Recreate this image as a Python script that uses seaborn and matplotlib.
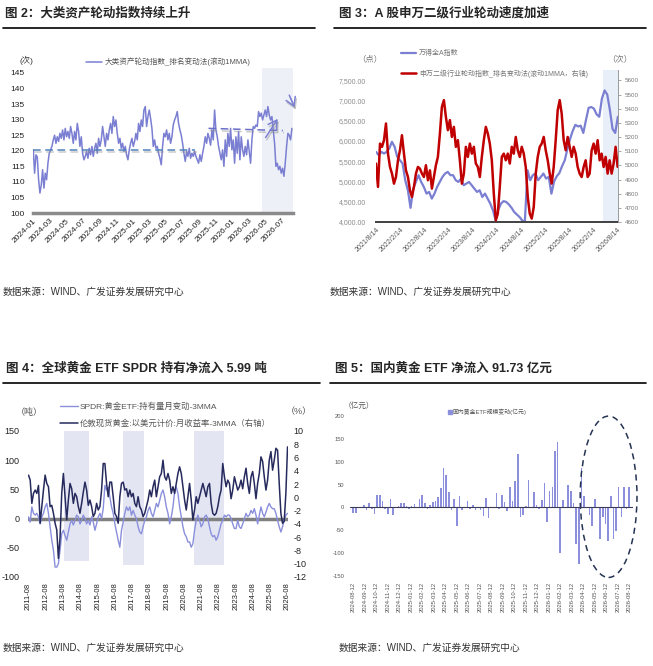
import numpy as np
import pandas as pd
import matplotlib
matplotlib.use("Agg")
import matplotlib.pyplot as plt
import matplotlib.dates as mdates
import matplotlib.patheffects as pe
from matplotlib.patches import Ellipse, Patch
import seaborn as sns

W, H = 653, 666

# ---- 图2 大类资产轮动指数 (排名变动法, 滚动1MMA) ----
rot_index = [
    120.3, 112.8, 118.7, 118.0, 110.7, 106.4, 109.0, 113.9, 108.0, 112.8,
    110.7, 116.0, 119.2, 120.3, 121.4, 123.5, 125.0, 122.4, 124.5, 123.0,
    125.6, 124.0, 126.7, 123.5, 127.2, 124.5, 126.2, 124.0, 127.8, 125.6,
    122.4, 126.2, 123.5, 128.8, 126.2, 121.4, 124.5, 119.2, 117.1, 118.2,
    119.8, 117.6, 120.8, 118.7, 121.4, 118.2, 120.8, 122.4, 119.2, 124.0,
    121.4, 123.5, 127.8, 124.5, 121.4, 125.6, 123.5, 126.7, 128.8, 125.6,
    131.0, 127.8, 129.9, 125.6, 122.4, 124.0, 120.8, 122.4, 119.8, 121.4,
    118.7, 117.1, 120.3, 122.4, 124.0, 121.4, 123.0, 125.6, 123.5, 128.8,
    126.2, 129.9, 127.8, 133.1, 134.2, 127.8, 131.0, 133.1, 130.4, 127.2,
    121.4, 123.5, 120.8, 121.4, 119.2, 117.6, 115.5, 121.4, 125.6, 124.5,
    126.7, 123.5, 125.6, 122.4, 124.5, 128.3, 129.9, 131.0, 132.6, 128.8,
    126.7, 125.0, 122.4, 119.2, 116.6, 119.8, 118.2, 120.8, 117.6, 119.2,
    118.2, 119.8, 118.2, 117.1, 116.0, 118.7, 116.6, 119.2, 121.4, 124.5,
    122.4, 125.6, 124.0, 121.8, 126.7, 123.5, 133.1, 126.7, 124.5, 121.4,
    119.2, 117.1, 120.3, 115.0, 123.5, 118.2, 125.6, 121.4, 127.2, 120.3,
    123.5, 116.0, 124.5, 119.2, 126.2, 117.1, 124.5, 120.3, 118.2, 121.4,
    118.7, 123.5, 119.8, 116.0, 123.5, 127.8, 127.2, 128.3, 127.8, 132.6,
    131.0, 132.1, 129.9, 131.5, 133.1, 131.0, 134.2, 131.5, 129.9, 131.0,
    126.7, 122.4, 115.0, 116.0, 113.9, 115.0, 112.8, 114.4, 111.8, 116.0,
    121.4, 125.6, 125.0, 123.5, 127.2,
]

# ---- 图3 万得全A指数 (左轴) / 申万二级行业轮动指数 (右轴) ----
wind_a = [
    5733, 5651, 5733, 5692, 5733, 5816, 5981, 5857, 5610, 5527,
    5445, 5032, 4784, 4350, 4825, 4990, 5156, 4990, 4867, 4702,
    4743, 4578, 4702, 4867, 4990, 5114, 5197, 5238, 5156, 5156,
    5032, 4990, 5073, 4908, 4949, 4990, 4908, 4825, 4743, 4784,
    4619, 4702, 4578, 4454, 4289, 4041, 4300, 4454, 4516, 4495,
    4433, 4350, 4247, 4185, 4124, 4040, 4000, 5280, 5032, 5156,
    5197, 5032, 5114, 5197, 5073, 5114, 4700, 5000, 5130, 5210,
    5380, 5520, 5800, 6050, 6250, 6400, 6360, 6380, 6200, 6520,
    6820, 6840, 6800, 6660, 6600, 7050, 7250, 7150, 6766, 6300,
    6200, 6600,
]
sw_rotation = [
    5013, 4848, 5154, 5131, 5178, 5296, 5083, 4989, 4942, 4871,
    4918, 5036, 5107, 5213, 5083, 4965, 4918, 4824, 4777, 4848,
    4942, 4989, 4977, 4942, 4918, 5001, 4895, 4965, 4836, 4918,
    5001, 5060, 5225, 5413, 5461, 5343, 5249, 5320, 5201, 5272,
    5131, 5178, 5036, 4871, 4942, 5131, 5060, 5154, 5083, 5131,
    5013, 4989, 4918, 5060, 5178, 5272, 5225, 5154, 5036, 4800,
    4612, 4659, 4848, 5060, 5083, 5036, 5083, 5013, 5131, 5083,
    5201, 5107, 5060, 5131, 5083, 4989, 4777, 4659, 4624, 4706,
    4942, 5060, 5131, 5154, 5201, 5107, 5036, 4942, 4871, 4989,
    5178, 5390, 5461, 5366, 5178, 5107, 5201, 5131, 5060, 5131,
    5083, 4989, 4942, 4918, 4989, 5036, 4918, 4942, 5107, 5154,
    5083, 5178, 5036, 5083, 4989, 5060, 4942, 5036, 4942, 5013,
    5131, 4990,
]

# ---- 图4 SPDR持有量月变动-3MMA (吨) / 伦敦现货黄金月收益率-3MMA (%) ----
spdr_flow = [
    3, -6, 20, 9, 6, 9, 3, -9, 3, 9,
    20, 26, 9, -14, -37, -54, -83, -83, -77, -54,
    -26, -20, -29, -37, -23, -9, -3, -11, -3, 6,
    3, -9, -3, 6, 0, -9, -3, -11, 3, -6,
    -20, -9, 3, 9, 0, 17, 57, 49, 54, 37,
    20, 9, -9, -23, -37, -49, -20, -6, 9, 20,
    14, 20, 6, 14, 6, 0, -14, -23, -26, -14,
    -3, 3, 14, 20, 9, 3, 14, 26, 20, 31,
    43, 49, 37, 20, 9, -9, 3, 20, 46, 54,
    43, 20, 3, -14, -26, -31, -40, -40, -49, -43,
    -20, -3, 6, -3, -14, -9, 3, 6, 0, -14,
    -26, -31, -29, -37, -31, -20, -9, -3, 6, 3,
    6, 6, 0, -9, -17, -17, -3, -14, -17, -9,
    0, 9, 3, 6, 14, 9, 17, 6, -9, 6,
    20, 9, 3, 11, 20, 26, 20, 17, 17, 9,
    -3, -14, -23, -14, -3, 6, 9,
]
gold_ret = [
    3.35, 2.6, -0.9, 0.6, 1.1, 0.6, 1.8, -3.9, -1.4, 1.1,
    3.35, 2.1, 1.6, -1.4, -1.2, -2.4, -3.9, -4.9, -9.2, -6.0,
    0.6, 3.6, 0.1, -3.4, -0.4, 2.1, 1.3, -0.9, 0.6, 0.1,
    -1.4, -2.4, -0.9, 0.8, 2.3, 1.1, -1.2, -0.4, -1.4, -2.9,
    -2.4, -0.9, -1.9, -1.4, 1.1, 5.1, 5.1, 2.1, 0.1, 2.3,
    2.3, 0.1, -2.4, -2.9, -3.9, 0.1, 2.1, 2.3, 1.1, 1.3,
    0.1, 1.1, 0.1, 0.6, -0.9, -1.4, 0.1, -1.4, -1.9, -2.9,
    -2.4, -1.4, -0.4, 1.1, 0.1, 1.6, 2.6, 0.1, 1.6, 3.1,
    3.6, 5.6, 3.1, 2.6, 3.6, 2.6, 0.6, 1.6, 0.6, 2.1,
    3.6, 4.6, 3.6, 1.6, -0.4, -1.9, 0.1, 2.1, -0.4, -3.4,
    -1.9, 0.1, -0.9, 0.1, 1.1, 2.1, 1.1, 0.1, 1.6, 2.1,
    -0.9, -2.4, -2.7, -2.4, -1.4, 0.1, 1.1, 5.1, 3.1, 1.6,
    2.6, 2.1, -0.2, 1.1, 3.1, 2.1, 1.1, 1.6, 2.6, 1.3,
    3.1, 4.4, 2.1, 0.6, 3.1, 3.9, 2.1, -0.2, 2.1, 3.6,
    6.1, 5.4, 3.1, 1.1, 2.6, 5.6, 6.9, 4.1, 5.6, 7.4,
    7.1, 2.1, -2.4, -3.9, -3.6, 0.6, 7.6,
]

# ---- 图5 国内黄金ETF规模变动 (亿元, 周度) ----
etf_flow = [
    -12, -12, 2, -2, 5, -6, 9, -4, -15, 28, 28, 14, -3, -15, 19, -16, -2, 3,
    10, 10, 3, -4, 3, 7, -1, 19, 28,
    9, -4, 6, 11, 14, 23, 43, 87, 70, 33, -5, 19, -40, 25, -6, 0, 15, -4,
    5, -6, 0, -5, -19, 20, -24, 0, -2,
    32, -3, 28, 12, -7, 44, 15, 58, 117, -22, -16, 3, 60, 0, 33, 6, -3, 16,
    54, -32, 35, 44, 124, 143, -99, 16, 0, 50, 36, 9, -79, -124, 87, 25, 0,
    -16, -41, 19, 0, -68, -22, -36, -74, 25, -70, -51, 45, -22, 45, -3, 45,
]

source = "数据来源：WIND、广发证券发展研究中心"

sns.set_theme(style="white")
plt.rcParams["font.family"] = ["Liberation Sans", "Noto Sans CJK SC"]
plt.rcParams["axes.unicode_minus"] = False

fig = plt.figure(figsize=(W / 100, H / 100), dpi=100)


def box(l, t, r, b):
    return [l / W, 1 - b / H, (r - l) / W, (b - t) / H]


def fx(x):
    return x / W


def fy(y):
    return 1 - y / H


def header(xt, x0, x1, yt, yr, title, ys, xs):
    fig.text(fx(xt), fy(yt), title, fontsize=9, fontweight="bold", va="center", ha="left")
    fig.add_artist(plt.Line2D([fx(x0), fx(x1)], [fy(yr), fy(yr)], color="black", lw=1.2))
    fig.text(fx(xs), fy(ys), source, fontsize=7, va="center", ha="left", color="#333333")


header(5, 3, 315, 13, 28, "图 2：大类资产轮动指数持续上升", 292, 3)
header(339, 334, 646, 13, 28, "图 3：A 股申万二级行业轮动速度加速", 292, 330)
header(6, 3, 320, 368, 383, "图 4：全球黄金 ETF SPDR 持有净流入 5.99 吨", 648, 3)
header(335, 330, 646, 368, 383, "图 5：国内黄金 ETF 净流入 91.73 亿元", 648, 339)

shadow = [pe.SimpleLineShadow(offset=(0.8, -1.6), shadow_color="#8f8f8f", alpha=0.45), pe.Normal()]

# ================= 图2 =================
ax1 = fig.add_axes(box(33, 68, 293, 213))
df1 = pd.DataFrame({"date": pd.date_range("2024-01-02", "2026-08-08", periods=len(rot_index)),
                    "value": rot_index})
sns.lineplot(data=df1, x="date", y="value", ax=ax1, color="#7b7fd2", lw=1.1,
             label="大类资产轮动指数_排名变动法(滚动1MMA)")
ax1.axvspan(pd.Timestamp("2026-04-19"), pd.Timestamp("2026-08-12"), color="#eef0f8", lw=0, zorder=0)
ax1.plot([pd.Timestamp("2024-01-02"), pd.Timestamp("2025-08-19")], [120.3, 120.3],
         ls=(0, (5, 3)), color="#4f81bd", lw=1.1, path_effects=shadow)
ax1.plot([pd.Timestamp("2025-10-06"), pd.Timestamp("2026-07-06")], [127.2, 126.5],
         ls=(0, (5, 3)), color="#6a70c8", lw=1.1, path_effects=shadow)
for (d0, v0), (d1, v1) in [(("2026-04-28", 123.5), ("2026-06-22", 131.0)),
                           (("2026-07-25", 138.7), ("2026-08-22", 133.1))]:
    ann = ax1.annotate("", xy=(mdates.date2num(pd.Timestamp(d1)), v1),
                       xytext=(mdates.date2num(pd.Timestamp(d0)), v0),
                       arrowprops=dict(arrowstyle="->,head_length=0.5,head_width=0.3",
                                       color="#7b7fd2", lw=1.1),
                       annotation_clip=False)
    ann.arrow_patch.set_path_effects(shadow)
ax1.set_xlim(pd.Timestamp("2024-01-01"), pd.Timestamp("2026-08-12"))
ax1.set_ylim(100, 146.6)
ax1.set_yticks(range(100, 146, 5))
t1 = pd.date_range("2024-01-01", "2026-07-01", freq="2MS")
ax1.set_xticks(t1)
ax1.set_xticklabels(t1.strftime("%Y-%m"), rotation=45, ha="right", va="top", rotation_mode="anchor")
ax1.tick_params(axis="y", length=0, labelsize=6, pad=6, labelcolor="#222222")
ax1.tick_params(axis="x", length=0, labelsize=6, pad=3, labelcolor="#222222")
ax1.set_xlabel("")
ax1.set_ylabel("")
for s in ["left", "right", "top"]:
    ax1.spines[s].set_visible(False)
ax1.spines["bottom"].set_color("#8a8a8a")
ax1.spines["bottom"].set_linewidth(2.5)
ax1.get_legend().remove()
h, l = ax1.get_legend_handles_labels()
fig.legend(h[:1], l[:1], loc="center left", bbox_to_anchor=(fx(86), fy(62)), frameon=False,
           fontsize=5.5, handlelength=2.1, handletextpad=0.4, borderpad=0, borderaxespad=0,
           labelcolor="#555555")
fig.text(fx(20), fy(60), "(次)", fontsize=6, va="center", color="#333333")

# ================= 图3 =================
ax2 = fig.add_axes(box(376, 70, 618, 222))
ax2r = ax2.twinx()
df2a = pd.DataFrame({"date": pd.date_range("2021-08-14", "2026-08-19", periods=len(wind_a)),
                     "value": wind_a})
df2b = pd.DataFrame({"date": pd.date_range("2021-08-14", "2026-08-17", periods=len(sw_rotation)),
                     "value": sw_rotation})
sns.lineplot(data=df2a, x="date", y="value", ax=ax2, color="#7b7fd2", lw=1.6, label="万得全A指数")
sns.lineplot(data=df2b, x="date", y="value", ax=ax2r, color="#c00000", lw=1.8,
             label="申万二级行业轮动指数_排名变动法(滚动1MMA，右轴)")
ax2.axvspan(pd.Timestamp("2026-04-26"), pd.Timestamp("2026-08-20"), color="#e9eff8", lw=0, zorder=0)
ax2.set_xlim(pd.Timestamp("2021-08-14"), pd.Timestamp("2026-08-20"))
ax2.set_ylim(4000, 7755)
ax2r.set_ylim(4600, 5674)
lt = list(range(4000, 7501, 500))
ax2.set_yticks(lt)
ax2.set_yticklabels([f"{v:,.2f}" for v in lt])
ax2r.set_yticks(range(4600, 5601, 100))
t2 = [pd.Timestamp(f"{y}-{m}-14") for y in range(2021, 2027) for m in (2, 8)][1:]
ax2.set_xticks(t2)
ax2.set_xticklabels([f"{d.year}/{d.month}/{d.day}" for d in t2], rotation=45, ha="right",
                    va="top", rotation_mode="anchor")
ax2.tick_params(axis="y", length=0, labelsize=5, pad=7, labelcolor="#8c8c8c")
ax2.tick_params(axis="x", length=0, labelsize=5, pad=3, labelcolor="#555555")
ax2r.tick_params(axis="y", length=2, width=0.6, color="#999999", labelsize=4.5, pad=3,
                 labelcolor="#777777")
for a in (ax2, ax2r):
    a.set_xlabel("")
    a.set_ylabel("")
    for s in ["left", "top", "right", "bottom"]:
        a.spines[s].set_visible(False)
ax2.spines["bottom"].set_visible(True)
ax2.spines["bottom"].set_color("#404040")
ax2.spines["bottom"].set_linewidth(1.4)
ax2r.spines["right"].set_visible(True)
ax2r.spines["right"].set_color("#9a9a9a")
ax2r.spines["right"].set_linewidth(0.7)
h2, l2 = ax2.get_legend_handles_labels()
h3, l3 = ax2r.get_legend_handles_labels()
ax2.get_legend().remove()
ax2r.get_legend().remove()
fig.legend(h2 + h3, l2 + l3, loc="upper left", bbox_to_anchor=(fx(401), fy(50)), frameon=False,
           fontsize=5, handlelength=2.2, handletextpad=0.4, borderpad=0, borderaxespad=0,
           labelspacing=1.75, labelcolor="#777777")
fig.text(fx(357), fy(59), "（点）", fontsize=6, va="center", color="#777777")
fig.text(fx(607), fy(59), "（次）", fontsize=6, va="center", color="#777777")

# ================= 图4 =================
ax3 = fig.add_axes(box(28, 431, 288, 577))
ax3r = ax3.twinx()
d3 = pd.date_range("2011-08-31", "2026-08-31", periods=len(spdr_flow))
df3 = pd.DataFrame({"date": d3, "spdr": spdr_flow, "gold": gold_ret})
for s0, s1, lo in [("2013-09-20", "2015-03-05", -73), ("2017-02-10", "2018-05-05", -80),
                   ("2021-04-01", "2023-01-05", -80)]:
    ax3.fill_between([pd.Timestamp(s0), pd.Timestamp(s1)], lo, 150, color="#e3e5f3", lw=0, zorder=0)
ax3.axhline(0, color="#808080", lw=2.5, zorder=1)
sns.lineplot(data=df3, x="date", y="spdr", ax=ax3, color="#8a8fdb", lw=1.0,
             label="SPDR:黄金ETF:持有量月变动-3MMA")
sns.lineplot(data=df3, x="date", y="gold", ax=ax3r, color="#262a5c", lw=1.1,
             label="伦敦现货黄金:以美元计价:月收益率-3MMA（右轴）")
ax3.set_xlim(pd.Timestamp("2011-08-20"), pd.Timestamp("2026-09-10"))
ax3.set_ylim(-100, 150)
ax3r.set_ylim(-12, 10)
ax3.set_yticks(range(-100, 151, 50))
ax3r.set_yticks(range(-12, 11, 2))
t3 = [pd.Timestamp(f"{y}-08-31") for y in range(2011, 2027)]
ax3.set_xticks(t3)
ax3.set_xticklabels([f"{d.year}-08" for d in t3], rotation=90, ha="center", va="top")
ax3.tick_params(axis="y", length=0, labelsize=6.5, pad=6, labelcolor="#222222")
ax3.tick_params(axis="x", length=0, labelsize=5.5, pad=4, labelcolor="#222222")
ax3r.tick_params(axis="y", length=0, labelsize=6.5, pad=4, labelcolor="#222222")
for a in (ax3, ax3r):
    a.set_xlabel("")
    a.set_ylabel("")
    for s in ["left", "top", "right", "bottom"]:
        a.spines[s].set_visible(False)
h4, l4 = ax3.get_legend_handles_labels()
h5, l5 = ax3r.get_legend_handles_labels()
ax3.get_legend().remove()
ax3r.get_legend().remove()
fig.legend(h4 + h5, l4 + l5, loc="upper left", bbox_to_anchor=(fx(60), fy(402)), frameon=False,
           fontsize=6, handlelength=2.1, handletextpad=0.3, borderpad=0, borderaxespad=0,
           labelspacing=1.05, labelcolor="#555555")
fig.text(fx(16), fy(412), "（吨）", fontsize=6.5, va="center", color="#555555")
fig.text(fx(286), fy(412), "（%）", fontsize=6.5, va="center", color="#555555")

# ================= 图5 =================
ax4 = fig.add_axes(box(350, 416, 633, 576))
df4 = pd.DataFrame({"week": np.arange(len(etf_flow)), "flow": etf_flow})
sns.barplot(data=df4, x="week", y="flow", ax=ax4, color="#8c90dc", width=0.6, saturation=1,
            linewidth=0, edgecolor="none")
n4 = len(etf_flow)
ax4.axhline(0, color="#3c3c5a", lw=0.8)
ax4.set_xlim(-1.24, n4 - 1 + 1.4)
ax4.set_ylim(-150, 200)
ax4.set_yticks(range(-150, 201, 50))
t4 = pd.date_range("2024-08-12", periods=25, freq=pd.DateOffset(months=1))
ax4.set_xticks(np.linspace(0, n4 - 1, len(t4)))
ax4.set_xticklabels(t4.strftime("%Y-%m-%d"), rotation=90, ha="center", va="top")
ax4.tick_params(axis="y", length=0, labelsize=4.2, pad=4, labelcolor="#555555")
ax4.tick_params(axis="x", length=0, labelsize=4.2, pad=4, labelcolor="#555555")
ax4.set_xlabel("")
ax4.set_ylabel("")
for s in ["left", "top", "right", "bottom"]:
    ax4.spines[s].set_visible(False)
ax4.add_patch(Ellipse((96.2, 23.3), 21.4, 353, fill=False, ls=(0, (4, 3)), lw=1.1,
                      edgecolor="#243352", clip_on=False))
fig.legend([Patch(color="#8c90dc")], ["国内黄金ETF规模变动(亿元)"], loc="center left",
           bbox_to_anchor=(fx(448), fy(412)), frameon=False, fontsize=4.2, handlelength=0.6,
           handleheight=0.6, handletextpad=0.2, borderpad=0, borderaxespad=0,
           labelcolor="#555555")
fig.text(fx(344), fy(406), "（亿元）", fontsize=5.5, va="center", color="#555555")

fig.savefig("out.png", dpi=100)
